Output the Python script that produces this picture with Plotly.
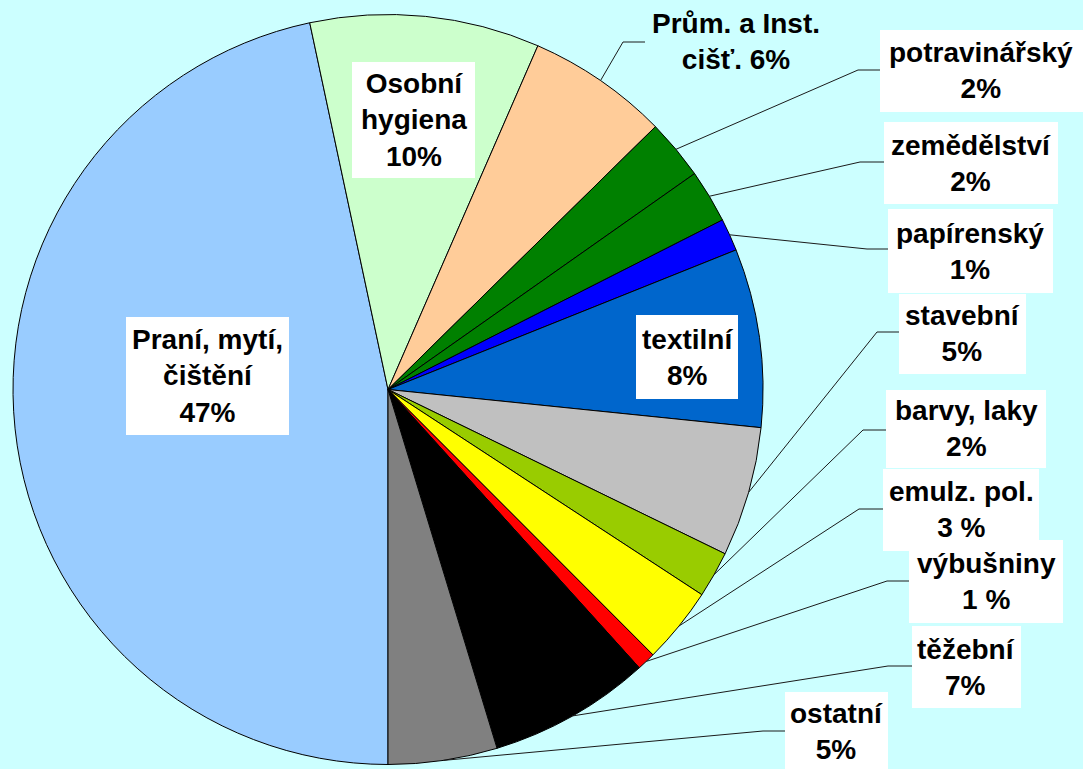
import math
import plotly.graph_objects as go

# ---------------- data ----------------
labels = ["Praní, mytí, čištění", "Osobní hygiena", "Prům. a Inst. cišť.", "potravinářský",
          "zemědělství", "papírenský", "textilní", "stavební", "barvy, laky",
          "emulz. pol.", "výbušniny", "těžební", "ostatní"]
values = [46.7, 9.9, 6.1, 2.6, 2.3, 1.4, 7.7, 5.6, 2.0, 3.3, 0.8, 7.0, 4.7]
pct_text = ["47%", "10%", "6%", "2%", "2%", "1%", "8%", "5%", "2%", "3 %", "1 %", "7%", "5%"]
label_lines = [
    ["Praní, mytí,", "čištění", "47%"],
    ["Osobní", "hygiena", "10%"],
    ["Prům. a Inst.", "cišť. 6%"],
    ["potravinářský", "2%"],
    ["zemědělství", "2%"],
    ["papírenský", "1%"],
    ["textilní", "8%"],
    ["stavební", "5%"],
    ["barvy, laky", "2%"],
    ["emulz. pol.", "3 %"],
    ["výbušniny", "1 %"],
    ["těžební", "7%"],
    ["ostatní", "5%"],
]
colors = ["#99CCFF", "#CCFFCC", "#FFCC99", "#008000", "#008000", "#0000FF", "#0066CC",
          "#C0C0C0", "#99CC00", "#FFFF00", "#FF0000", "#000000", "#808080"]

# ---------------- layout constants (pixels) ----------------
W, H = 1083, 769
CX, CY, R = 388, 389.5, 375
BG = "#CCFFFF"

# per label: box (x0,y0,x1,y1) or None, text centre, elbow (start x, elbow x, y) or None
boxes = [(126, 317, 289, 435), (352, 62, 475, 178), None, (880, 30, 1083, 112),
         (884, 122, 1058, 204), (888, 209, 1053, 293), (636, 315, 738, 399),
         (899, 294, 1026, 374), (886, 390, 1046, 468), (883, 469, 1039, 551),
         (909, 540, 1063, 623), (912, 626, 1021, 708), (785, 692, 888, 769)]
centres = [(207.5, 376), (413.5, 120), (736, 42), (981, 71), (971, 163), (970, 251),
           (687, 357), (962, 334), (966, 429), (961, 510), (986, 581), (966, 667), (836, 731)]
elbows = [None, None, (645, 623, 42), (880, 858, 70), (884, 860, 162), (888, 867, 249),
          None, (899, 877, 332), (886, 863, 430), (883, 859, 509), (909, 887, 581),
          (912, 888, 666), (785, 763, 731)]


def px(x):
    return x / W


def py(y):
    return 1 - y / H


fig = go.Figure(go.Pie(
    values=values, labels=labels, sort=False, direction="clockwise", rotation=180,
    marker=dict(colors=colors, line=dict(color="black", width=1)),
    textinfo="none", hoverinfo="label+percent", showlegend=False,
    domain=dict(x=[px(CX - R), px(CX + R)], y=[py(CY + R), py(CY - R)]),
))

shapes = []
annotations = []
total = sum(values)
cum = 0.0
for i, v in enumerate(values):
    mid = 180 + (cum + v / 2) / total * 360
    cum += v
    th = math.radians(mid)
    ex, ey = CX + R * math.sin(th), CY - R * math.cos(th)
    if elbows[i] is not None:
        sx, bx, by = elbows[i]
        shapes.append(dict(type="path", xref="paper", yref="paper", layer="above",
                           path=f"M {px(sx)},{py(by)} L {px(bx)},{py(by)} L {px(ex)},{py(ey)}",
                           line=dict(color="#1a1a1a", width=1)))
    if boxes[i] is not None:
        x0, y0, x1, y1 = boxes[i]
        shapes.append(dict(type="rect", xref="paper", yref="paper", layer="above",
                           x0=px(x0), x1=px(x1), y0=py(y1), y1=py(y0),
                           fillcolor="white", line=dict(width=0)))
    tx, ty = centres[i]
    annotations.append(dict(
        x=px(tx), y=py(ty), xref="paper", yref="paper", showarrow=False,
        xanchor="center", yanchor="middle", align="center",
        text="<br>".join(f"<b>{t}</b>" for t in label_lines[i]),
        font=dict(family="Liberation Sans, Arial, sans-serif", size=28, color="black"),
    ))

fig.update_layout(
    width=W, height=H, margin=dict(l=0, r=0, t=0, b=0),
    paper_bgcolor=BG, plot_bgcolor=BG,
    shapes=shapes, annotations=annotations, showlegend=False,
)

fig.write_html(
    "out.html",
    config={"displayModeBar": False},
    post_script="document.body.style.margin='0';document.body.style.background='#CCFFFF';"
                "document.body.style.overflow='hidden';",
)
